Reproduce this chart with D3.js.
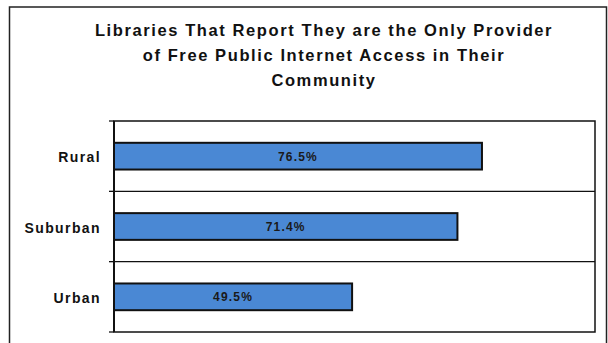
<!DOCTYPE html>
<html>
<head>
<meta charset="utf-8">
<script src="https://cdn.jsdelivr.net/npm/d3@7"></script>
<style>
  body { margin: 0; background: #fff; }
  svg { display: block; }
</style>
</head>
<body>
<svg width="608" height="343"></svg>
<script>
"use strict";

const categories = ['Rural', 'Suburban', 'Urban']
const values = [76.5, 71.4, 49.5]
const valueLabels = ['76.5%', '71.4%', '49.5%']
const titleLines = [
	'Libraries That Report They are the Only Provider',
	'of Free Public Internet Access in Their',
	'Community'
]

;(function() {
	const svg = d3.select('svg')
	const font = '"Liberation Sans", Arial, sans-serif'

	// outer frame
	svg.append('rect')
		.attr('x', 9.5).attr('y', 7)
		.attr('width', 597).attr('height', 345)
		.attr('fill', 'none')
		.attr('stroke', '#222')
		.attr('stroke-width', 1.5)

	svg.append('g').selectAll('text')
		.data(titleLines)
		.enter().append('text')
		.attr('x', 324)
		.attr('y', (d, i) => 35.5 + i * 25.3)
		.attr('text-anchor', 'middle')
		.attr('font-family', font)
		.attr('font-weight', 'bold')
		.attr('font-size', 16.5)
		.attr('letter-spacing', 1.6)
		.attr('fill', '#111')
		.text(d => d)

	const pl = 114, pr = 595, pt = 121, pb = 332
	const x = d3.scaleLinear().domain([0, 100]).range([pl, pr])
	const rows = d3.scaleBand().domain(categories).range([pt, pb])
	const y = d3.scaleBand().domain(categories).range([pt, pb])
		.paddingInner(0.62).paddingOuter(0.31)

	const plot = svg.append('g')

	// plot frame + row separators
	plot.append('rect')
		.attr('x', pl).attr('y', pt)
		.attr('width', pr - pl).attr('height', pb - pt)
		.attr('fill', 'none')
		.attr('stroke', '#111')
		.attr('stroke-width', 1.5)

	const bounds = categories.map(c => rows(c)).concat([pb])
	plot.selectAll('.sep')
		.data(bounds.slice(1, -1))
		.enter().append('line')
		.attr('x1', pl).attr('x2', pr)
		.attr('y1', d => d).attr('y2', d => d)
		.attr('stroke', '#111')
		.attr('stroke-width', 1.3)

	plot.selectAll('.tick')
		.data(bounds)
		.enter().append('line')
		.attr('x1', pl - 5).attr('x2', pl)
		.attr('y1', d => d).attr('y2', d => d)
		.attr('stroke', '#111')
		.attr('stroke-width', 1.3)

	// left axis on top of frame
	plot.append('line')
		.attr('x1', pl).attr('x2', pl)
		.attr('y1', pt).attr('y2', pb)
		.attr('stroke', '#111')
		.attr('stroke-width', 2)

	plot.selectAll('.bar')
		.data(categories)
		.enter().append('rect')
		.attr('x', pl)
		.attr('y', d => y(d))
		.attr('width', (d, i) => x(values[i]) - pl)
		.attr('height', y.bandwidth())
		.attr('fill', '#4a88d4')
		.attr('stroke', '#111')
		.attr('stroke-width', 2)

	plot.selectAll('.val')
		.data(categories)
		.enter().append('text')
		.attr('x', (d, i) => (pl + x(values[i])) / 2)
		.attr('y', d => y(d) + y.bandwidth() / 2 + 4.5)
		.attr('text-anchor', 'middle')
		.attr('font-family', font)
		.attr('font-weight', 'bold')
		.attr('font-size', 12)
		.attr('letter-spacing', 1.2)
		.attr('fill', '#1a1a1a')
		.text((d, i) => valueLabels[i])

	plot.selectAll('.cat')
		.data(categories)
		.enter().append('text')
		.attr('x', 101)
		.attr('y', d => y(d) + y.bandwidth() / 2 + 6)
		.attr('text-anchor', 'end')
		.attr('font-family', font)
		.attr('font-weight', 'bold')
		.attr('font-size', 14)
		.attr('letter-spacing', 1.4)
		.attr('fill', '#111')
		.text(d => d)
})()
</script>
</body>
</html>
